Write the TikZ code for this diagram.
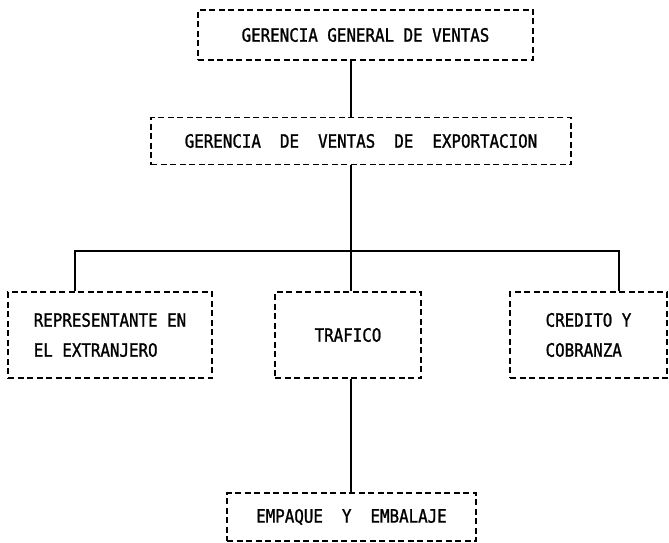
\documentclass[tikz,border=0pt]{standalone}
\usepackage{fontspec}
\newfontfamily\maquina[FakeStretch=0.86,FakeBold=1.2]{DejaVu Sans Mono}
\begin{document}
\begin{tikzpicture}[x=1pt,y=-1pt,
	caja/.style={draw,line width=1.9pt,dash pattern=on 6pt off 3.5pt,inner sep=0pt,align=left},
	linea/.style={line width=1.5pt}]
\useasboundingbox (0,0) rectangle (669,543);
\maquina\fontsize{18.4}{30}\selectfont
\node[caja,minimum width=335,minimum height=50] (gral) at (365.5,35) {GERENCIA GENERAL DE VENTAS};
\node[caja,minimum width=420,minimum height=47] (expo) at (361,141) {GERENCIA~~DE~~VENTAS~~DE~~EXPORTACION};
\node[caja,minimum width=204,minimum height=86] (repr) at (110,335) {REPRESENTANTE EN\\EL EXTRANJERO};
\node[caja,minimum width=146,minimum height=86] (traf) at (348,335) {TRAFICO};
\node[caja,minimum width=157,minimum height=86] (cred) at (588.5,335) {CREDITO Y\\COBRANZA};
\node[caja,minimum width=249,minimum height=48] (emba) at (351.5,517) {EMPAQUE~~Y~~EMBALAJE};
\coordinate (eje) at (351,251);
\coordinate (izq) at (75,251);
\coordinate (der) at (619,251);
\draw[linea] (gral.south -| eje) -- (expo.north -| eje);
\draw[linea] (expo.south -| eje) -- (traf.north -| eje);
\draw[linea] (repr.north -| izq) -- (izq) -- (der) -- (cred.north -| der);
\draw[linea] (traf.south -| eje) -- (emba.north -| eje);
\end{tikzpicture}
\end{document}
